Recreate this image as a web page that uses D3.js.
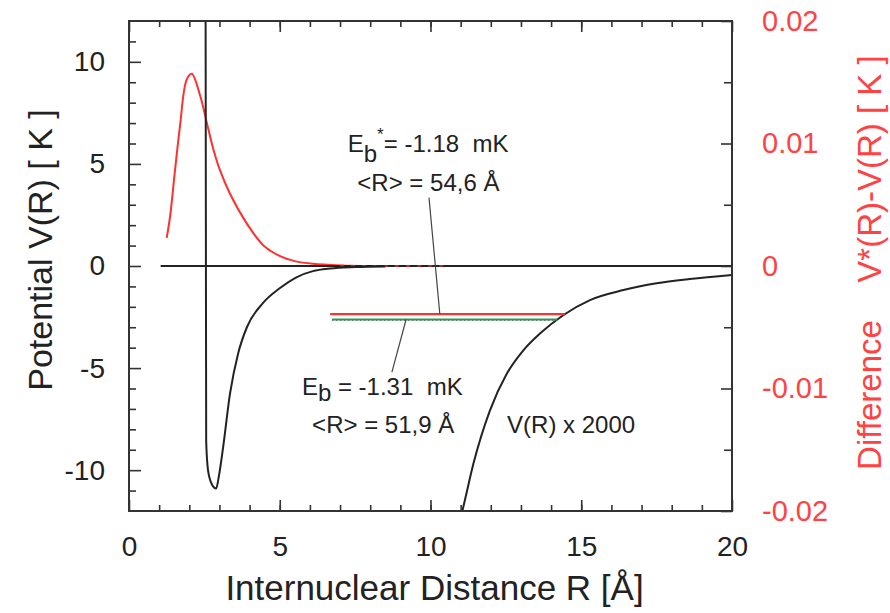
<!DOCTYPE html>
<html>
<head>
<meta charset="utf-8">
<script src="https://cdn.jsdelivr.net/npm/d3@7"></script>
<style>
  html, body { margin: 0; padding: 0; background: #ffffff; }
  svg { display: block; font-family: "Liberation Sans", Arial, Helvetica, sans-serif; }
</style>
</head>
<body>
<svg id="chart" width="890" height="613"></svg>
<script>
// He2 interaction potential V(R) [K] (left axis)
const potR = [2.54, 2.55, 2.56, 2.62, 2.72, 2.82, 2.89, 2.98, 3.12, 3.35, 3.62, 3.91, 4.44, 5.01, 5.57, 6.10, 6.67, 7.5, 8.5];
const potV = [13, 2, -8.6, -10.0, -10.6, -10.85, -10.9, -10.3, -8.9, -6.25, -4.28, -3.0, -1.82, -1.08, -0.54, -0.25, -0.12, -0.05, -0.02];

// Long-range tail magnified: V(R) x 2000 [K]
const scaledR = [10.95, 11.08, 11.42, 11.97, 12.53, 13.08, 13.63, 14.4, 15.29, 16.4, 17.5, 18.6, 20];
const scaledV = [-12.6, -11.85, -9.7, -7.08, -5.28, -4.13, -3.31, -2.41, -1.67, -1.18, -0.85, -0.64, -0.44];

// Difference V*(R) - V(R) [K] (right axis)
const diffR = [1.25, 1.36, 1.53, 1.69, 1.91, 2.08, 2.36, 2.59, 2.79, 3.02, 3.35, 3.9, 4.45, 5.01, 5.5, 6.1, 7.0, 8.0, 10.5];
const diffV = [0.0023, 0.0040, 0.0079, 0.0114, 0.0152, 0.0157, 0.0139, 0.0116, 0.0096, 0.0078, 0.0059, 0.0035, 0.0017, 0.0008, 0.0004, 0.00018, 0.00005, 0, 0];

// Bound-state energies [mK], drawn on the V(R) x 2000 scale
const magnification = 2000;
const levelNames = ["Eb*", "Eb"];
const levelEnergy_mK = [-1.18, -1.31];
const levelStartR = [6.67, 6.73];
const levelEndR = [14.45, 14.2];
const levelColors = ["#ff3030", "#2f9a4a"];

// Axes
const xTicks = [0, 5, 10, 15, 20];
const xTickLabels = ["0", "5", "10", "15", "20"];
const leftTicks = [-10, -5, 0, 5, 10];
const leftTickLabels = ["-10", "-5", "0", "5", "10"];
const rightTicks = [-0.02, -0.01, 0, 0.01, 0.02];
const rightTickLabels = ["-0.02", "-0.01", "0", "0.01", "0.02"];

const RED = "#ff3030";
const RED_TEXT = "#ff4242";
const INK = "#222222";

const svg = d3.select("#chart");

const x = d3.scaleLinear().domain([0, 20]).range([129, 732]);
const yL = d3.scaleLinear().domain([-12, 12]).range([511, 21]);
const yR = d3.scaleLinear().domain([-0.02, 0.02]).range([511, 21]);

const [x0, x1] = x.range();
const [yb, yt] = yL.range();

svg.append("defs").append("clipPath").attr("id", "plot")
  .append("rect").attr("x", x0).attr("y", yt).attr("width", x1 - x0).attr("height", yb - yt);

const plot = svg.append("g").attr("clip-path", "url(#plot)");

const diffPts = d3.zip(diffR, diffV);

// Difference curve
const diffLine = d3.line().x(d => x(d[0])).y(d => yR(d[1])).curve(d3.curveCatmullRom.alpha(0.5));
plot.append("path")
  .datum(diffPts)
  .attr("d", diffLine)
  .attr("fill", "none").attr("stroke", RED).attr("stroke-width", 2);

// Zero reference line
plot.append("line")
  .attr("x1", x(1.05)).attr("x2", x(20))
  .attr("y1", yL(0)).attr("y2", yL(0))
  .attr("stroke", INK).attr("stroke-width", 2);

// Flat tail of the difference, showing through along the zero line
plot.append("path")
  .datum(diffPts.filter(d => d[0] >= 7.0))
  .attr("d", diffLine)
  .attr("fill", "none").attr("stroke", RED).attr("stroke-width", 1.6)
  .attr("stroke-dasharray", "4,7").attr("opacity", 0.75);

const potLine = d3.line().x(d => x(d[0])).y(d => yL(d[1])).curve(d3.curveMonotoneX);

// Potential
plot.append("path")
  .datum(d3.zip(potR, potV))
  .attr("d", potLine)
  .attr("fill", "none").attr("stroke", INK).attr("stroke-width", 2);

// Magnified potential tail
plot.append("path")
  .datum(d3.zip(scaledR, scaledV))
  .attr("d", potLine)
  .attr("fill", "none").attr("stroke", INK).attr("stroke-width", 2);

// Energy levels
levelNames.forEach((name, i) => {
  const v = levelEnergy_mK[i] / 1000 * magnification;
  plot.append("line")
    .attr("x1", x(levelStartR[i])).attr("x2", x(levelEndR[i]))
    .attr("y1", yL(v)).attr("y2", yL(v))
    .attr("stroke", levelColors[i]).attr("stroke-width", 2.2);
  if (name === "Eb") {
    plot.append("line")
      .attr("x1", x(levelStartR[i])).attr("x2", x(levelEndR[i]))
      .attr("y1", yL(v) + 1).attr("y2", yL(v) + 1)
      .attr("stroke", "#555").attr("stroke-width", 1)
      .attr("stroke-dasharray", "1.5,2.5").attr("opacity", 0.7);
  }
});

// Frame
svg.append("rect")
  .attr("x", x0).attr("y", yt).attr("width", x1 - x0).attr("height", yb - yt)
  .attr("fill", "none").attr("stroke", "#333").attr("stroke-width", 2);

function styleAxis(g, color) {
  g.select(".domain").remove();
  g.selectAll(".tick line").attr("stroke", color).attr("stroke-width", 1.6);
}

const minorX = d3.range(1, 20);
const minorL = d3.range(-11, 12).filter(v => v % 5 !== 0);
const minorR = d3.range(-0.015, 0.016, 0.005).filter(v => Math.abs(v) > 1e-9 && Math.abs(Math.abs(v) - 0.01) > 1e-9);

// Bottom axis
svg.append("g").attr("transform", `translate(0,${yb})`)
  .call(d3.axisBottom(x).tickValues(minorX).tickSize(-6).tickFormat(""))
  .call(g => styleAxis(g, "#333"));
svg.append("g").attr("transform", `translate(0,${yb})`)
  .call(d3.axisBottom(x).tickValues(xTicks).tickSize(-11).tickPadding(25)
        .tickFormat((d, i) => xTickLabels[i]))
  .call(g => styleAxis(g, "#333"))
  .call(g => g.selectAll("text").attr("font-size", 28).attr("fill", INK).attr("font-family", null));

// Top axis (ticks only)
svg.append("g").attr("transform", `translate(0,${yt})`)
  .call(d3.axisTop(x).tickValues(minorX).tickSize(-6).tickFormat(""))
  .call(g => styleAxis(g, "#333"));
svg.append("g").attr("transform", `translate(0,${yt})`)
  .call(d3.axisTop(x).tickValues(xTicks).tickSize(-11).tickFormat(""))
  .call(g => styleAxis(g, "#333"));

// Left axis
svg.append("g").attr("transform", `translate(${x0},0)`)
  .call(d3.axisLeft(yL).tickValues(minorL).tickSize(-7).tickFormat(""))
  .call(g => styleAxis(g, "#333"));
svg.append("g").attr("transform", `translate(${x0},0)`)
  .call(d3.axisLeft(yL).tickValues(leftTicks).tickSize(-12).tickPadding(24)
        .tickFormat((d, i) => leftTickLabels[i]))
  .call(g => styleAxis(g, "#333"))
  .call(g => g.selectAll("text").attr("font-size", 28).attr("fill", INK).attr("font-family", null));

// Right axis
svg.append("g").attr("transform", `translate(${x1},0)`)
  .call(d3.axisRight(yR).tickValues(minorR).tickSize(-8).tickFormat(""))
  .call(g => styleAxis(g, "#333"));
svg.append("g").attr("transform", `translate(${x1},0)`)
  .call(d3.axisRight(yR).tickValues(rightTicks).tickSize(-11).tickPadding(30)
        .tickFormat((d, i) => rightTickLabels[i]))
  .call(g => styleAxis(g, "#333"))
  .call(g => g.selectAll("text").attr("font-size", 29).attr("fill", RED_TEXT).attr("font-family", null));

// Axis titles
svg.append("text")
  .attr("x", (x0 + x1) / 2 + 4).attr("y", 600)
  .attr("text-anchor", "middle").attr("font-size", 35).attr("fill", INK)
  .text("Internuclear Distance R [Å]");

svg.append("text")
  .attr("transform", `translate(52,${(yt + yb) / 2 - 16}) rotate(-90)`)
  .attr("text-anchor", "middle").attr("font-size", 34).attr("fill", INK)
  .text("Potential V(R) [ K ]");

svg.append("text")
  .attr("transform", `translate(881,395) rotate(-90)`)
  .attr("text-anchor", "middle").attr("font-size", 33).attr("fill", RED_TEXT)
  .text("Difference");
svg.append("text")
  .attr("transform", `translate(881,169) rotate(-90)`)
  .attr("text-anchor", "middle").attr("font-size", 33).attr("fill", RED_TEXT)
  .text("V*(R)-V(R) [ K ]");

// Annotations
const ann = svg.append("g").attr("fill", INK).attr("font-size", 24);

// Leader lines from labels to the levels
const vStar = levelEnergy_mK[0] / 1000 * magnification;
const vB = levelEnergy_mK[1] / 1000 * magnification;
ann.append("line")
  .attr("x1", x(9.95)).attr("y1", yL(3.35))
  .attr("x2", x(10.31)).attr("y2", yL(vStar))
  .attr("stroke", "#444").attr("stroke-width", 1.2);
ann.append("line")
  .attr("x1", x(9.19)).attr("y1", yL(vB))
  .attr("x2", x(8.72)).attr("y2", yL(-5.2))
  .attr("stroke", "#444").attr("stroke-width", 1.2);

function energyLabel(cx, cy, star, value) {
  const t = ann.append("text").attr("x", x(cx)).attr("y", yL(cy)).attr("text-anchor", "middle");
  t.append("tspan").text("E");
  t.append("tspan").attr("dy", star ? 10 : 6).text("b");
  if (star) {
    t.append("tspan").attr("dy", -22).attr("font-size", 17).text("*");
    t.append("tspan").attr("dy", 12).text("= " + value.toFixed(2) + "\u00a0\u00a0mK");
  } else {
    t.append("tspan").attr("dy", -6).text(" = " + value.toFixed(2) + "\u00a0\u00a0mK");
  }
}

energyLabel(9.92, 5.56, true, levelEnergy_mK[0]);
ann.append("text").attr("x", x(9.93)).attr("y", yL(3.69)).attr("text-anchor", "middle")
  .text("<R> = 54,6 Å");

energyLabel(8.4, -6.3, false, levelEnergy_mK[1]);
ann.append("text").attr("x", x(8.43)).attr("y", yL(-8.17)).attr("text-anchor", "middle")
  .text("<R> = 51,9 Å");

ann.append("text").attr("x", x(12.54)).attr("y", yL(-8.17))
  .text("V(R) x " + magnification);
</script>
</body>
</html>
